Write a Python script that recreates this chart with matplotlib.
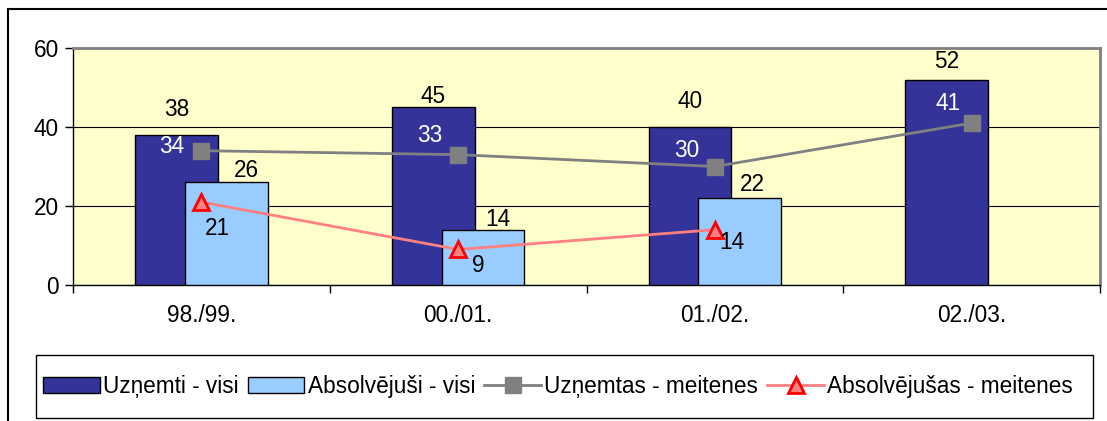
import numpy as np
import matplotlib.pyplot as plt
from matplotlib.lines import Line2D
from matplotlib.patches import Rectangle

plt.rcParams['font.family'] = ['Liberation Sans', 'DejaVu Sans']

# data
years = ["98./99.", "00./01.", "01./02.", "02./03."]
uznemti_visi = [38, 45, 40, 52]
absolv_visi = [26, 14, 22, None]
uznemtas_meitenes = [34, 33, 30, 41]
absolv_meitenes = [21, 9, 14, None]

# label offsets in pixels (Excel places them a bit unevenly)
off_dark = [25, 11, 25, 18]
off_light = [(20, 12), (15, 10), (13, 14)]
off_gray = [(-30, 4), (-28, 19), (-28, 16), (-24, 20)]
off_red = [(16, -26), (20, -16), (17, -13)]

fs = 16.3
fig = plt.figure(figsize=(11.07, 4.21), dpi=100)
ax = fig.add_axes([73 / 1107, 136 / 421, 1027 / 1107, 237 / 421])
ax.set_facecolor("#FFFFCC")

x = np.arange(len(years))
w = 0.323
off = 0.097

# bars
ax.bar(x - off, uznemti_visi, w, color="#333399", edgecolor="black",
       linewidth=1, zorder=3, label="Uzņemti - visi")
xa = [xi for xi, v in zip(x, absolv_visi) if v is not None]
va = [v for v in absolv_visi if v is not None]
ax.bar(np.array(xa) + off, va, w, color="#99CCFF", edgecolor="black",
       linewidth=1, zorder=4, label="Absolvējuši - visi")

# lines
ax.plot(x, uznemtas_meitenes, color="#808080", lw=2, marker="s", ms=12,
        mfc="#808080", mec="#808080", zorder=5, label="Uzņemtas - meitenes")
xm = [xi for xi, v in zip(x, absolv_meitenes) if v is not None]
vm = [v for v in absolv_meitenes if v is not None]
ax.plot(xm, vm, color="#FF8080", lw=2, marker="^", ms=11, mfc="#FF8080",
        mec="#FF0000", mew=2, zorder=6, label="Absolvējušas - meitenes")

# value labels
for xi, v, o in zip(x, uznemti_visi, off_dark):
    ax.annotate(str(v), (xi - off, v), xytext=(0, o), textcoords="offset pixels",
                ha="center", va="center", fontsize=fs, zorder=7)
for xi, v, o in zip(xa, va, off_light):
    ax.annotate(str(v), (xi + off, v), xytext=o, textcoords="offset pixels",
                ha="center", va="center", fontsize=fs, zorder=7)
for xi, v, o in zip(x, uznemtas_meitenes, off_gray):
    ax.annotate(str(v), (xi, v), xytext=o, textcoords="offset pixels",
                ha="center", va="center", fontsize=fs, color="white", zorder=7)
for xi, v, o in zip(xm, vm, off_red):
    ax.annotate(str(v), (xi, v), xytext=o, textcoords="offset pixels",
                ha="center", va="center", fontsize=fs, zorder=7)

# axes styling
ax.set_xlim(-0.5, 3.5)
ax.set_ylim(0, 60)
ax.set_yticks([0, 20, 40, 60])
ax.yaxis.grid(True, color="black", lw=0.8, zorder=1)
ax.set_axisbelow(True)
ax.set_xticks(x)
ax.set_xticklabels(years)
ax.set_xticks(np.arange(-0.5, 4, 1), minor=True)
ax.tick_params(axis="x", which="major", length=0, pad=14, labelsize=fs)
ax.tick_params(axis="x", which="minor", length=6, width=1, direction="out")
ax.tick_params(axis="y", length=6, width=1, direction="out", pad=4, labelsize=fs)
for s in ["top", "right"]:
    ax.spines[s].set_color("#808080")
    ax.spines[s].set_linewidth(2)
ax.spines["left"].set_linewidth(1)
ax.spines["bottom"].set_linewidth(1)

# outer frame (top and left only visible)
fig.add_artist(Line2D([8 / 1107, 1], [1 - 9 / 421, 1 - 9 / 421],
                      color="black", lw=1.5, transform=fig.transFigure))
fig.add_artist(Line2D([8 / 1107, 8 / 1107], [0, 1 - 9 / 421],
                      color="black", lw=1.5, transform=fig.transFigure))

# legend box
fig.add_artist(Rectangle((36 / 1107, 3 / 421), 1057 / 1107, 63 / 421,
                         transform=fig.transFigure, fill=False,
                         edgecolor="black", lw=1))
h, l = ax.get_legend_handles_labels()
order = [2, 3, 0, 1]
h = [h[i] for i in order]
l = [l[i] for i in order]
fig.legend(h, l, loc="center", bbox_to_anchor=(558 / 1107, 35 / 421), ncol=4,
           frameon=False, fontsize=fs, handlelength=2.5, handletextpad=0.15,
           columnspacing=0.4, borderpad=0)

fig.savefig("out.png", dpi=100)
